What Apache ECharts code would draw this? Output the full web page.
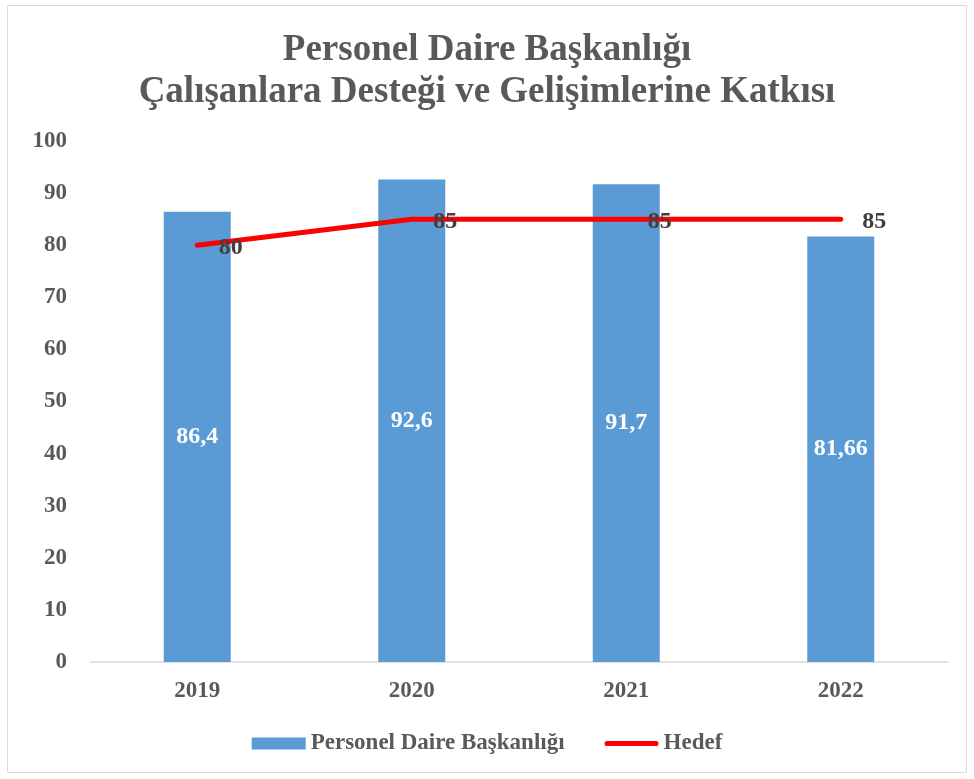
<!DOCTYPE html>
<html>
<head>
<meta charset="utf-8">
<script src="https://cdn.jsdelivr.net/npm/echarts@6/dist/echarts.min.js"></script>
<style>
  html, body { margin: 0; padding: 0; background: #fff; }
  #chart { width: 974px; height: 779px; }
</style>
</head>
<body>
<div id="chart"></div>
<script>
// yıllar ve değerler
const years = ['2019', '2020', '2021', '2022'];
const personelValues = [86.4, 92.6, 91.7, 81.66];
const personelLabels = ['86,4', '92,6', '91,7', '81,66'];
const hedefValues = [80, 85, 85, 85];

const serif = '"Liberation Serif", "Times New Roman", serif';
const grey = '#595959';

const option = {
    backgroundColor: '#fff',
    animation: false,
    title: {
        text: 'Personel Daire Başkanlığı\nÇalışanlara Desteği ve Gelişimlerine Katkısı',
        left: 'center',
        top: 24,
        textStyle: {
            fontFamily: serif,
            fontWeight: 'bold',
            fontSize: 37,
            lineHeight: 42,
            color: grey
        }
    },
    graphic: [{
        type: 'rect',
        shape: { x: 7.5, y: 5.5, width: 959, height: 767 },
        style: { fill: 'none', stroke: '#d9d9d9', lineWidth: 1 },
        silent: true
    }],
    legend: {
        bottom: 19,
        left: 'center',
        itemWidth: 54,
        itemHeight: 12,
        itemGap: 40,
        textStyle: {
            fontFamily: serif,
            fontWeight: 'bold',
            fontSize: 23,
            color: grey
        },
        data: [
            { name: 'Personel Daire Başkanlığı', icon: 'rect' },
            { name: 'Hedef', icon: 'path://M2,0 L50,0 A2.5,2.5 0 0 1 50,5 L2,5 A2.5,2.5 0 0 1 2,0 Z' }
        ]
    },
    grid: {
        left: 90,
        right: 26,
        top: 141,
        bottom: 117
    },
    xAxis: {
        type: 'category',
        data: years,
        axisLine: { lineStyle: { color: '#d9d9d9', width: 1.5 } },
        axisTick: { show: false },
        axisLabel: {
            margin: 18,
            fontFamily: serif,
            fontWeight: 'bold',
            fontSize: 23,
            color: grey
        }
    },
    yAxis: {
        type: 'value',
        min: 0,
        max: 100,
        interval: 10,
        axisLine: { show: false },
        axisTick: { show: false },
        splitLine: { show: false },
        axisLabel: {
            margin: 23,
            fontFamily: serif,
            fontWeight: 'bold',
            fontSize: 23,
            color: grey
        }
    },
    series: [{
        name: 'Personel Daire Başkanlığı',
        type: 'bar',
        data: personelValues,
        barWidth: 67,
        itemStyle: { color: '#5b9bd5' },
        label: {
            show: true,
            position: 'inside',
            formatter: (p) => personelLabels[p.dataIndex],
            fontFamily: serif,
            fontWeight: 'bold',
            fontSize: 24,
            color: '#fff'
        }
    }, {
        name: 'Hedef',
        type: 'line',
        data: hedefValues,
        symbol: 'circle',
        symbolSize: 1,
        lineStyle: { color: '#ff0000', width: 5, cap: 'round' },
        itemStyle: { color: '#ff0000' },
        label: {
            show: true,
            position: 'right',
            distance: 21,
            offset: [0, 3],
            fontFamily: serif,
            fontWeight: 'bold',
            fontSize: 24,
            color: '#404040'
        }
    }]
};

echarts.init(document.getElementById('chart')).setOption(option);
</script>
</body>
</html>
